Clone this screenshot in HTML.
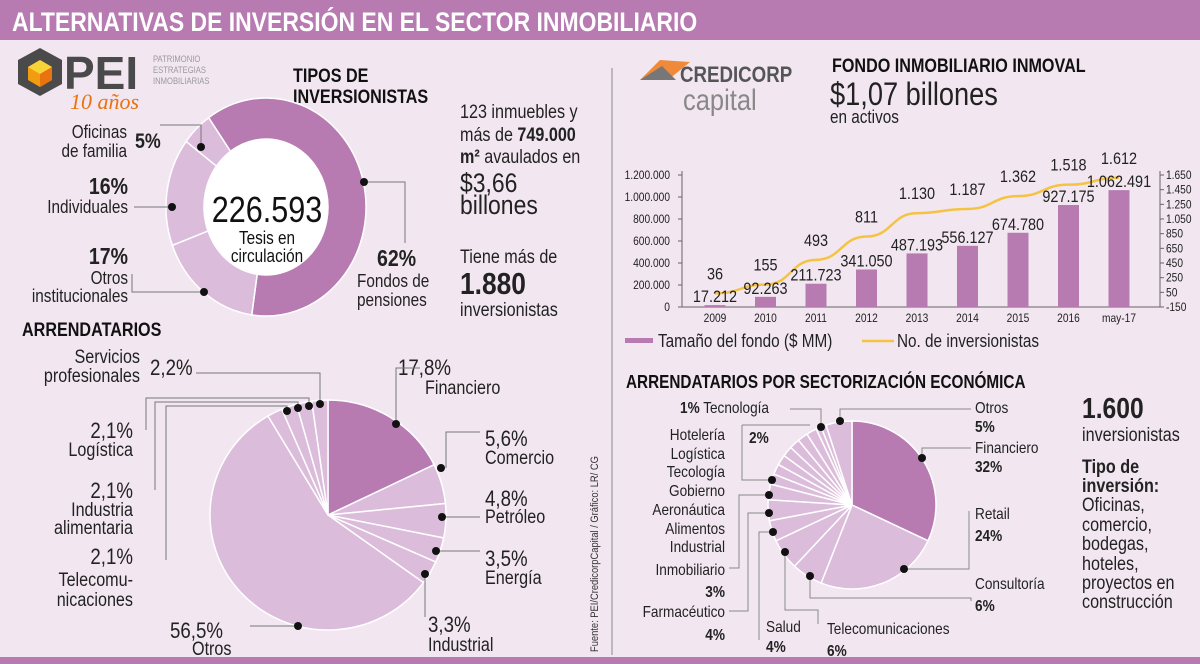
<!DOCTYPE html>
<html><head><meta charset="utf-8"><style>
html,body{margin:0;padding:0;background:#f2e7f1;}
svg{display:block;font-family:"Liberation Sans Narrow","Liberation Sans",sans-serif;}
.b{font-weight:bold;}
</style></head><body>
<svg id="s" width="1200" height="664" viewBox="0 0 1200 664">
<rect x="0" y="0" width="1200" height="664" fill="#f2e7f1"/>
<rect x="0" y="0" width="1200" height="40" fill="#b77bb2"/>
<text x="12" y="31" font-size="27" class="b" fill="#fff">ALTERNATIVAS DE INVERSIÓN EN EL SECTOR INMOBILIARIO</text>
<rect x="0" y="657" width="1200" height="7" fill="#b77bb2"/>
<line x1="612" y1="68" x2="612" y2="655" stroke="#888" stroke-width="1"/>

<g>
<polygon points="40,48 62,60 62,84 40,96 18,84 18,60" fill="#4a4a4a"/>
<polygon points="40,60 52,67 52,80 40,87 28,80 28,67" fill="#f39c12"/>
<polygon points="40,60 52,67 40,74 28,67" fill="#f7d33a"/>
<polygon points="40,74 52,67 52,80 40,87" fill="#e8730f"/>
<text x="64" y="89" font-size="46" class="b" fill="#4a4a4a" font-family="Liberation Sans">PEI</text>
<text x="153" y="62" font-size="9" fill="#999">PATRIMONIO</text>
<text x="153" y="73" font-size="9" fill="#999">ESTRATEGIAS</text>
<text x="153" y="84" font-size="9" fill="#999">INMOBILIARIAS</text>
<text x="70" y="109" font-size="22" font-style="italic" fill="#e8730f" font-family="Liberation Serif">10 años</text>
</g>

<g>
<polygon points="640,80 660,60 690,62 668,80" fill="#f08a3a"/>
<polygon points="640,80 662,66 676,80" fill="#777"/>
<text x="680" y="82" font-size="22" class="b" fill="#555">CREDICORP</text>
<text x="683" y="110" font-size="30" fill="#888">capital</text>
</g>

<text x="293" y="82" font-size="19" class="b" fill="#111">TIPOS DE</text>
<text x="293" y="103" font-size="19" class="b" fill="#111">INVERSIONISTAS</text>

<g font-size="19" fill="#222">
<text x="460" y="118">123 inmuebles y</text>
<text x="460" y="141">más de <tspan class="b">749.000</tspan></text>
<text x="460" y="163"><tspan class="b">m²</tspan> avaulados en</text>
<text x="460" y="192" font-size="27">$3,66</text>
<text x="460" y="214" font-size="27">billones</text>
<text x="460" y="263">Tiene más de</text>
<text x="460" y="294" font-size="31" class="b">1.880</text>
<text x="460" y="316">inversionistas</text>
</g>

<g id="donut"></g>
<text x="267" y="222" font-size="36" text-anchor="middle" fill="#111">226.593</text>
<text x="267" y="244" font-size="18" text-anchor="middle" fill="#111">Tesis en</text>
<text x="267" y="262" font-size="18" text-anchor="middle" fill="#111">circulación</text>

<g font-size="18" fill="#222">
<text x="127" y="138" text-anchor="end">Oficinas</text>
<text x="127" y="157" text-anchor="end">de familia</text>
<text x="135" y="148" font-size="21" class="b">5%</text>
<text x="128" y="194" font-size="23" class="b" text-anchor="end">16%</text>
<text x="128" y="213" text-anchor="end">Individuales</text>
<text x="128" y="264" font-size="23" class="b" text-anchor="end">17%</text>
<text x="128" y="284" text-anchor="end">Otros</text>
<text x="128" y="302" text-anchor="end">institucionales</text>
<text x="377" y="266" font-size="23" class="b">62%</text>
<text x="357" y="287">Fondos de</text>
<text x="357" y="306">pensiones</text>
</g>
<g fill="none" stroke="#777" stroke-width="1">
<polyline points="160,125 201,125 201,146"/>
<polyline points="134,207 171,207"/>
<polyline points="132,274 132,292 204,292"/>
<polyline points="364,182 405,182 405,243"/>
</g>
<g fill="#111">
<circle cx="201" cy="147" r="4"/><circle cx="172" cy="207" r="4"/><circle cx="204" cy="292" r="4"/><circle cx="364" cy="182" r="4"/>
</g>

<text x="22" y="336" font-size="19" class="b" fill="#111">ARRENDATARIOS</text>
<g id="pie1"></g>
<g font-size="19" fill="#222">
<text x="140" y="363" text-anchor="end">Servicios</text>
<text x="140" y="382" text-anchor="end">profesionales</text>
<text x="150" y="375" font-size="22">2,2%</text>
<text x="398" y="375" font-size="22">17,8%</text>
<text x="425" y="394">Financiero</text>
<text x="485" y="446" font-size="22">5,6%</text>
<text x="485" y="464">Comercio</text>
<text x="485" y="506" font-size="22">4,8%</text>
<text x="485" y="523">Petróleo</text>
<text x="485" y="566" font-size="22">3,5%</text>
<text x="485" y="584">Energía</text>
<text x="428" y="632" font-size="22">3,3%</text>
<text x="428" y="651">Industrial</text>
<text x="170" y="638" font-size="22">56,5%</text>
<text x="192" y="655">Otros</text>
<text x="133" y="438" font-size="22" text-anchor="end">2,1%</text>
<text x="133" y="456" text-anchor="end">Logística</text>
<text x="133" y="498" font-size="22" text-anchor="end">2,1%</text>
<text x="133" y="516" text-anchor="end">Industria</text>
<text x="133" y="534" text-anchor="end">alimentaria</text>
<text x="133" y="564" font-size="22" text-anchor="end">2,1%</text>
<text x="133" y="586" text-anchor="end">Telecomu-</text>
<text x="133" y="606" text-anchor="end">nicaciones</text>
</g>
<g fill="none" stroke="#777" stroke-width="1">
<polyline points="196,373 320,373 320,404"/>
<polyline points="146,430 146,398 309,398 309,406"/>
<polyline points="155,490 155,402 298,402 298,408"/>
<polyline points="166,560 166,406 287,406 287,411"/>
<polyline points="420,368 396,368 396,424"/>
<polyline points="480,432 446,432 446,468"/>
<polyline points="480,517 442,517"/>
<polyline points="480,551 436,551"/>
<polyline points="425,617 425,574"/>
<polyline points="250,626 298,626"/>
</g>
<g fill="#111">
<circle cx="320" cy="404" r="4"/><circle cx="309" cy="406" r="4"/><circle cx="298" cy="408" r="4"/><circle cx="287" cy="411" r="4"/>
<circle cx="396" cy="424" r="4"/><circle cx="441" cy="468" r="4"/><circle cx="442" cy="517" r="4"/><circle cx="436" cy="551" r="4"/><circle cx="425" cy="574" r="4"/><circle cx="298" cy="626" r="4"/>
</g>

<text transform="translate(598,652) rotate(-90)" font-size="11" fill="#333">Fuente: PEI/CredicorpCapital / Gráfico: LR/ CG</text>

<text x="832" y="72" font-size="19" class="b" fill="#111">FONDO INMOBILIARIO INMOVAL</text>
<text x="830" y="105" font-size="32" fill="#222">$1,07 billones</text>
<text x="830" y="123" font-size="18" fill="#222">en activos</text>

<g id="chart"></g>
<g>
<rect x="625" y="338" width="28" height="5" fill="#b77bb2"/>
<text x="658" y="347" font-size="18" fill="#222">Tamaño del fondo  ($ MM)</text>
<line x1="862" y1="341" x2="894" y2="341" stroke="#f5c342" stroke-width="2.5"/>
<text x="897" y="347" font-size="18" fill="#222">No. de inversionistas</text>
</g>

<text x="626" y="388" font-size="18" class="b" fill="#111">ARRENDATARIOS POR SECTORIZACIÓN ECONÓMICA</text>
<g id="pie2"></g>
<g font-size="16" fill="#222">
<text x="680" y="413"><tspan class="b">1%</tspan> Tecnología</text>
<text x="725" y="440" text-anchor="end">Hotelería</text>
<text x="725" y="459" text-anchor="end">Logística</text>
<text x="725" y="477" text-anchor="end">Tecología</text>
<text x="725" y="496" text-anchor="end">Gobierno</text>
<text x="725" y="515" text-anchor="end">Aeronáutica</text>
<text x="725" y="534" text-anchor="end">Alimentos</text>
<text x="725" y="552" text-anchor="end">Industrial</text>
<text x="725" y="575" text-anchor="end">Inmobiliario</text>
<text x="725" y="597" text-anchor="end" class="b">3%</text>
<text x="725" y="617" text-anchor="end">Farmacéutico</text>
<text x="725" y="640" text-anchor="end" class="b">4%</text>
<text x="749" y="443" class="b">2%</text>
<text x="766" y="632">Salud</text>
<text x="766" y="652" class="b">4%</text>
<text x="827" y="634">Telecomunicaciones</text>
<text x="827" y="656" class="b">6%</text>
<text x="975" y="413">Otros</text>
<text x="975" y="432" class="b">5%</text>
<text x="975" y="453">Financiero</text>
<text x="975" y="472" class="b">32%</text>
<text x="975" y="519">Retail</text>
<text x="975" y="541" class="b">24%</text>
<text x="975" y="589">Consultoría</text>
<text x="975" y="611" class="b">6%</text>
</g>
<g fill="none" stroke="#888" stroke-width="1">
<polyline points="790,409 821,409 821,425"/>
<polyline points="971,409 840,409 840,421"/>
<polyline points="971,448 922,448 922,458"/>
<polyline points="969,511 969,569 904,569"/>
<polyline points="971,601 971,598 810,598 810,575"/>
<polyline points="818,624 818,610 785,610 785,551"/>
<polyline points="759,640 759,532 772,532"/>
<polyline points="729,611 748,611 748,513 768,513"/>
<polyline points="729,568 739,568 739,495 769,495"/>
<polyline points="742,425 742,480 772,480"/>
<polyline points="742,425 810,425"/>
</g>
<g fill="#111">
<circle cx="821" cy="427" r="4"/><circle cx="840" cy="421" r="4"/><circle cx="922" cy="458" r="4"/><circle cx="904" cy="569" r="4"/>
<circle cx="810" cy="576" r="4"/><circle cx="785" cy="552" r="4"/><circle cx="773" cy="532" r="4"/><circle cx="769" cy="513" r="4"/><circle cx="769" cy="495" r="4"/><circle cx="772" cy="480" r="4"/>
</g>

<g font-size="19" fill="#222">
<text x="1082" y="418" font-size="29" class="b">1.600</text>
<text x="1082" y="441">inversionistas</text>
<text x="1082" y="473" class="b">Tipo de</text>
<text x="1082" y="492" class="b">inversión:</text>
<text x="1082" y="511">Oficinas,</text>
<text x="1082" y="531">comercio,</text>
<text x="1082" y="550">bodegas,</text>
<text x="1082" y="570">hoteles,</text>
<text x="1082" y="589">proyectos en</text>
<text x="1082" y="608">construcción</text>
</g>
</svg>
<script>
// ---- chart data ----
var years = ["2009","2010","2011","2012","2013","2014","2015","2016","may-17"];
var fundSize = [17212,92263,211723,341050,487193,556127,674780,927175,1062491];
var fundLabels = ["17.212","92.263","211.723","341.050","487.193","556.127","674.780","927.175","1.062.491"];
var investors = [36,155,493,811,1130,1187,1362,1518,1612];
var investorLabels = ["36","155","493","811","1.130","1.187","1.362","1.518","1.612"];
var leftTicks = [0,200000,400000,600000,800000,1000000,1200000];
var leftTickLabels = ["0","200.000","400.000","600.000","800.000","1.000.000","1.200.000"];
var rightTicks = [-150,50,250,450,650,850,1050,1250,1450,1650];
var rightTickLabels = ["-150","50","250","450","650","850","1.050","1.250","1.450","1.650"];
// ---- pie data ----
var donutNames = ["Fondos de pensiones","Otros institucionales","Individuales","Oficinas de familia"];
var donutValues = [62,17,16,5];
var pie1Names = ["Financiero","Comercio","Petróleo","Energía","Industrial","Otros","Telecomunicaciones","Industria alimentaria","Logística","Servicios profesionales"];
var pie1Values = [17.8,5.6,4.8,3.5,3.3,56.5,2.1,2.1,2.1,2.2];
var pie2Names = ["Financiero","Retail","Consultoría","Telecomunicaciones","Salud","Farmacéutico","Inmobiliario","Industrial","Alimentos","Aeronáutica","Gobierno","Tecología","Logística","Hotelería","Otro 2%","Tecnología","Otros"];
var pie2Values = [32,24,6,6,4,4,3,2,2,2,2,2,2,2,1,1,5];

var NS="http://www.w3.org/2000/svg";
function mk(tag,attrs,parent){var e=document.createElementNS(NS,tag);for(var k in attrs)e.setAttribute(k,attrs[k]);parent.appendChild(e);return e;}

(function(){
  var g=document.getElementById('chart');
  var x0=715, step=50.5, yBase=307, yTop=175, bw=21;
  function xs(i){return x0+i*step;}
  function yl(v){return yBase-(v/1200000)*(yBase-yTop);}
  function yr(v){return yBase-((v+150)/1800)*(yBase-yTop);}
  var ax=mk('line',{x1:682,y1:yTop-4,x2:682,y2:yBase,stroke:'#666'},g);
  
  
  var bx=mk('line',{x1:682,y1:yBase,x2:1160,y2:yBase,stroke:'#666'},g);
  
  
  var rx=mk('line',{x1:1160,y1:yTop-4,x2:1160,y2:yBase,stroke:'#666'},g);
  
  
  leftTicks.forEach(function(v,i){
    var t=mk('text',{x:670,y:yl(v)+4,'font-size':12,'text-anchor':'end',fill:'#222'},g);
    t.textContent=leftTickLabels[i];
    
    
    mk('line',{x1:678,y1:yl(v),x2:682,y2:yl(v),stroke:'#666'},g);
  });
  rightTicks.forEach(function(v,i){
    var t=mk('text',{x:1166,y:yr(v)+4,'font-size':12,fill:'#222'},g);
    t.textContent=rightTickLabels[i];
    
    
    mk('line',{x1:1160,y1:yr(v),x2:1164,y2:yr(v),stroke:'#666'},g);
  });
  years.forEach(function(c,i){
    var r=mk('rect',{x:xs(i)-bw/2,y:yl(fundSize[i]),width:bw,height:yBase-yl(fundSize[i]),fill:'#b77bb2'},g);
    
    
    var t=mk('text',{x:xs(i),y:yBase+15,'font-size':12,'text-anchor':'middle',fill:'#222'},g);
    t.textContent=c;
    
    
  });
  var d='';
  investors.forEach(function(v,i){
    var px=xs(i), py=yr(v);
    if(i===0){d='M'+px+','+py;}
    else{var qx=xs(i-1), qy=yr(investors[i-1]); var cx=(qx+px)/2; d+=' C'+cx+','+qy+' '+cx+','+py+' '+px+','+py;}
  });
  var p=mk('path',{d:d,fill:'none',stroke:'#f5c342','stroke-width':2.5},g);
  
  
  years.forEach(function(c,i){
    var t=mk('text',{x:xs(i),y:yl(fundSize[i])-3,'font-size':17,'text-anchor':'middle',fill:'#222'},g);
    t.textContent=fundLabels[i];
    
    
    var t2=mk('text',{x:xs(i),y:yr(investors[i])-14,'font-size':17,'text-anchor':'middle',fill:'#222'},g);
    t2.textContent=investorLabels[i];
    
    
  });
})();

function pt(cx,cy,rx,ry,a){var r=a*Math.PI/180;return [cx+rx*Math.sin(r),cy-ry*Math.cos(r)];}
function drawPie(gid,vals,names,cx,cy,rx,ry,irx,iry,start,colors){
  var g=document.getElementById(gid);
  var tot=vals.reduce(function(a,b){return a+b;},0);
  var a=start;
  vals.forEach(function(v,i){
    var sw=v/tot*360, a2=a+sw, lg=sw>180?1:0;
    var p1=pt(cx,cy,rx,ry,a), p2=pt(cx,cy,rx,ry,a2), d;
    if(irx>0){
      var q1=pt(cx,cy,irx,iry,a2), q2=pt(cx,cy,irx,iry,a);
      d='M'+p1+' A'+rx+','+ry+' 0 '+lg+' 1 '+p2+' L'+q1+' A'+irx+','+iry+' 0 '+lg+' 0 '+q2+' Z';
    } else {
      d='M'+cx+','+cy+' L'+p1+' A'+rx+','+ry+' 0 '+lg+' 1 '+p2+' Z';
    }
    var e=mk('path',{d:d,fill:colors[i],stroke:'#fff','stroke-width':1.5},g);
    
    
    a=a2;
  });
  if(irx>0){mk('ellipse',{cx:cx,cy:cy,rx:irx,ry:iry,fill:'#fff'},g);}
}
var L='#dcbcdb', D='#b77bb2';
drawPie('donut',donutValues,donutNames,266,207,100,109,62,68,-35,[D,L,L,L]);
drawPie('pie1',pie1Values,pie1Names,328,515,118,115,0,0,0,[D,L,L,L,L,L,L,L,L,L]);
drawPie('pie2',pie2Values,pie2Names,852,505,84,84,0,0,0,[D].concat(pie2Values.slice(1).map(function(){return L;})));

// condense text horizontally to mimic the condensed typeface
(function(){
  var ts=document.querySelectorAll('#s text');
  for(var i=0;i<ts.length;i++){
    var t=ts[i];
    if(t.getAttribute('font-family'))continue;
    var w=t.getComputedTextLength();
    if(w>0){t.setAttribute('textLength',(w*0.85).toFixed(1));t.setAttribute('lengthAdjust','spacingAndGlyphs');}
  }
})();
</script>
</body></html>
